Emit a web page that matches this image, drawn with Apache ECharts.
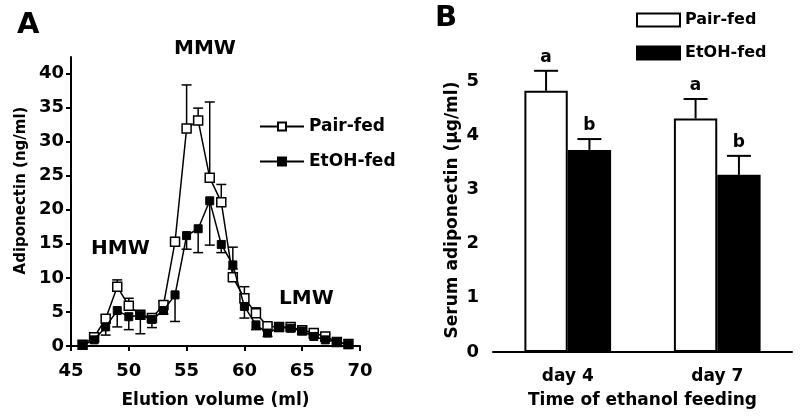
<!DOCTYPE html>
<html>
<head>
<meta charset="utf-8">
<script src="https://cdn.jsdelivr.net/npm/echarts@6/dist/echarts.min.js"></script>
<style>
  html, body { margin: 0; padding: 0; background: #fff; }
  #chart { width: 800px; height: 418px; }
</style>
</head>
<body>
<div id="chart"></div>
<script>
  // panel A - elution profile
  const elutionVolume = [46, 47, 48, 49, 50, 51, 52, 53, 54, 55, 56, 57, 58, 59, 60, 61, 62, 63, 64, 65, 66, 67, 68, 69]
  const pairFedA = [0.2, 1.3, 4.0, 8.7, 5.9, 4.6, 4.1, 6.0, 15.3, 31.9, 33.1, 24.7, 21.1, 10.1, 7.0, 4.8, 2.9, 2.8, 2.8, 2.3, 1.9, 1.4, 0.6, 0.3]
  const pairFedAErr = [0, 0.3, 0.5, 1.0, 1.1, 0.3, 0.3, 0.5, 0.6, 6.4, 1.8, 11.1, 2.6, 4.4, 1.7, 0.8, 0.3, 0.3, 0.3, 0.3, 0.3, 0.3, 0.2, 0]
  const etohFedA = [0.1, 0.9, 2.8, 5.2, 4.3, 4.5, 3.9, 5.2, 7.5, 16.2, 17.2, 21.3, 14.9, 11.9, 5.8, 3.1, 1.9, 2.7, 2.6, 2.2, 1.4, 0.9, 0.6, 0.2]
  const etohFedAErr = [0, 0.3, 1.2, 2.4, 1.9, 2.7, 1.2, 0.5, 3.9, 2.0, 3.5, 6.5, 1.2, 0.6, 1.7, 0.7, 0.5, 0.3, 0.3, 0.3, 0.3, 0.2, 0.2, 0]
  const yTicksA = [0, 5, 10, 15, 20, 25, 30, 35, 40]

  // panel B - serum adiponectin
  const days = ['day 4', 'day 7']
  const pairFedB = [4.82, 4.31]
  const pairFedBErr = [0.37, 0.36]
  const etohFedB = [3.73, 3.27]
  const etohFedBErr = [0.2, 0.35]
  const pairFedBLetters = ['a', 'a']
  const etohFedBLetters = ['b', 'b']
  const yTicksB = [0, 1, 2, 3, 4, 5]

  const FONT = '"DejaVu Sans", sans-serif'
  const BAR_FRAC = 0.29

  const lineErrRender = (capHalf) => (params, api) => {
    const x = api.value(0)
    const y = api.value(1)
    const e = api.value(2)
    if (!e) return null
    const p0 = api.coord([x, y])
    const p1 = api.coord([x, y + e])
    const st = { stroke: '#000', lineWidth: 1.5 }
    return {
      type: 'group',
      children: [
        { type: 'line', shape: { x1: p0[0], y1: p0[1], x2: p1[0], y2: p1[1] }, style: st },
        { type: 'line', shape: { x1: p1[0] - capHalf, y1: p1[1], x2: p1[0] + capHalf, y2: p1[1] }, style: st },
      ],
    }
  }

  const barErrRender = (side, capHalf) => (params, api) => {
    const idx = api.value(0)
    const y = api.value(1)
    const e = api.value(2)
    const band = api.size([1, 0])[0]
    const off = side * band * BAR_FRAC / 2
    const p0 = api.coord([idx, y])
    const p1 = api.coord([idx, y + e])
    const x = p0[0] + off
    const st = { stroke: '#000', lineWidth: 2 }
    return {
      type: 'group',
      children: [
        { type: 'line', shape: { x1: x, y1: p0[1], x2: x, y2: p1[1] }, style: st },
        { type: 'line', shape: { x1: x - capHalf, y1: p1[1], x2: x + capHalf, y2: p1[1] }, style: st },
        {
          type: 'text',
          style: {
            text: api.value(3),
            x: x,
            y: p1[1] - 5,
            align: 'center',
            verticalAlign: 'bottom',
            font: 'bold 17px ' + FONT,
            fill: '#000',
          },
        },
      ],
    }
  }

  const axisCommon = {
    axisLine: { lineStyle: { color: '#000', width: 2 } },
    axisTick: { lineStyle: { color: '#000', width: 2 }, length: 5 },
    splitLine: { show: false },
  }
  const boldText = (size) => ({ fontSize: size, fontWeight: 'bold', color: '#000', fontFamily: FONT })

  const chart = echarts.init(document.getElementById('chart'))
  const nameMap = { pairA: 'Pair-fed', etohA: 'EtOH-fed', pairB: 'Pair-fed', etohB: 'EtOH-fed' }

  chart.setOption({
    animation: false,
    backgroundColor: '#fff',
    textStyle: { fontFamily: FONT },
    grid: [
      { left: 71, right: 440, top: 57, bottom: 72 },
      { left: 493, right: 8, top: 54, bottom: 66 },
    ],
    legend: [
      {
        data: ['pairA', 'etohA'],
        orient: 'vertical',
        left: 254,
        top: 113,
        itemWidth: 44,
        itemHeight: 10,
        itemGap: 18,
        formatter: (n) => nameMap[n],
        textStyle: boldText(17),
      },
      {
        data: ['pairB', 'etohB'],
        orient: 'vertical',
        left: 631,
        top: 7,
        icon: 'rect',
        itemWidth: 43,
        itemHeight: 13,
        itemGap: 17,
        formatter: (n) => nameMap[n],
        textStyle: boldText(16),
      },
    ],
    xAxis: [
      {
        gridIndex: 0,
        type: 'value',
        min: 45,
        max: 70,
        interval: 5,
        name: 'Elution volume (ml)',
        nameLocation: 'middle',
        nameGap: 46,
        nameTextStyle: boldText(17),
        axisLabel: { ...boldText(18), margin: 16 },
        ...axisCommon,
      },
      {
        gridIndex: 1,
        type: 'category',
        data: days,
        name: 'Time of ethanol feeding',
        nameLocation: 'middle',
        nameGap: 40,
        nameTextStyle: boldText(17),
        axisLabel: { ...boldText(17), margin: 16 },
        ...axisCommon,
        axisTick: { alignWithLabel: true, lineStyle: { color: '#000', width: 2 }, length: 6 },
      },
    ],
    yAxis: [
      {
        gridIndex: 0,
        type: 'value',
        min: 0,
        max: 42.4,
        name: 'Adiponectin (ng/ml)',
        nameLocation: 'middle',
        nameGap: 42,
        nameTextStyle: { ...boldText(15), padding: [0, 0, 0, 22] },
        axisLabel: { ...boldText(18), customValues: yTicksA, margin: 7 },
        ...axisCommon,
        axisTick: { customValues: yTicksA, lineStyle: { color: '#000', width: 2 }, length: 5 },
      },
      {
        gridIndex: 1,
        type: 'value',
        min: 0,
        max: 5.5,
        name: 'Serum adiponectin (\u00b5g/ml)',
        nameLocation: 'middle',
        nameGap: 32,
        nameTextStyle: { ...boldText(17), padding: [0, 14, 0, 0] },
        axisLabel: { ...boldText(18), customValues: yTicksB, margin: 14 },
        ...axisCommon,
        axisTick: { customValues: yTicksB, lineStyle: { color: '#000', width: 2 }, length: 6 },
      },
    ],
    series: [
      {
        type: 'custom',
        xAxisIndex: 0,
        yAxisIndex: 0,
        z: 1,
        renderItem: lineErrRender(5),
        data: elutionVolume.map((x, i) => [x, pairFedA[i], pairFedAErr[i]]),
      },
      {
        type: 'custom',
        xAxisIndex: 0,
        yAxisIndex: 0,
        z: 1,
        renderItem: lineErrRender(5),
        data: elutionVolume.map((x, i) => [x, etohFedA[i], -etohFedAErr[i]]),
      },
      {
        name: 'pairA',
        type: 'line',
        xAxisIndex: 0,
        yAxisIndex: 0,
        z: 3,
        symbol: 'rect',
        symbolSize: 9,
        lineStyle: { color: '#000', width: 1.5 },
        itemStyle: { color: '#fff', borderColor: '#000', borderWidth: 1.5 },
        data: elutionVolume.map((x, i) => [x, pairFedA[i]]),
      },
      {
        name: 'etohA',
        type: 'line',
        xAxisIndex: 0,
        yAxisIndex: 0,
        z: 4,
        symbol: 'rect',
        symbolSize: 8,
        lineStyle: { color: '#000', width: 1.5 },
        itemStyle: { color: '#000', borderColor: '#000', borderWidth: 1 },
        data: elutionVolume.map((x, i) => [x, etohFedA[i]]),
      },
      {
        name: 'pairB',
        type: 'bar',
        xAxisIndex: 1,
        yAxisIndex: 1,
        barWidth: BAR_FRAC * 100 + '%',
        barGap: '0%',
        itemStyle: { color: '#fff', borderColor: '#000', borderWidth: 2 },
        data: pairFedB,
      },
      {
        name: 'etohB',
        type: 'bar',
        xAxisIndex: 1,
        yAxisIndex: 1,
        barWidth: BAR_FRAC * 100 + '%',
        barGap: '0%',
        itemStyle: { color: '#000', borderColor: '#000', borderWidth: 2 },
        data: etohFedB,
      },
      {
        type: 'custom',
        xAxisIndex: 1,
        yAxisIndex: 1,
        z: 3,
        renderItem: barErrRender(-1, 12),
        data: days.map((d, i) => [i, pairFedB[i], pairFedBErr[i], pairFedBLetters[i]]),
      },
      {
        type: 'custom',
        xAxisIndex: 1,
        yAxisIndex: 1,
        z: 3,
        renderItem: barErrRender(1, 12),
        data: days.map((d, i) => [i, etohFedB[i], etohFedBErr[i], etohFedBLetters[i]]),
      },
    ],
    graphic: [
      { type: 'text', left: 17, top: 11, style: { text: 'A', font: 'bold 29px ' + FONT, fill: '#000' } },
      { type: 'text', left: 435, top: 4, style: { text: 'B', font: 'bold 29px ' + FONT, fill: '#000' } },
      { type: 'text', left: 174, top: 39, style: { text: 'MMW', font: 'bold 20px ' + FONT, fill: '#000' } },
      { type: 'text', left: 91, top: 239, style: { text: 'HMW', font: 'bold 20px ' + FONT, fill: '#000' } },
      { type: 'text', left: 279, top: 289, style: { text: 'LMW', font: 'bold 20px ' + FONT, fill: '#000' } },
    ],
  })
</script>
</body>
</html>
